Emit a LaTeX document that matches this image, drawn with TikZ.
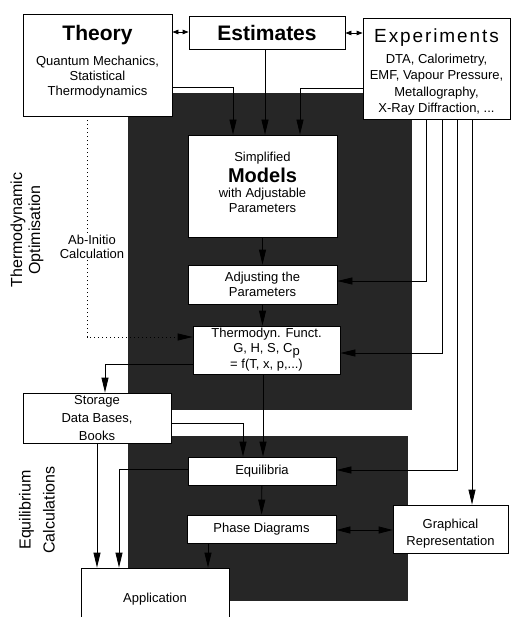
\documentclass[tikz,border=0pt]{standalone}
\usepackage{fontspec}
\setmainfont{Liberation Sans}
\usetikzlibrary{arrows.meta}

\newcommand{\fsz}[2]{\fontsize{#1}{#2}\selectfont}

\tikzset{
    box/.style={draw,fill=white,line width=0.8pt,align=center,inner sep=1pt,font=\fsz{13}{15}},
    darkfill/.style={fill=black!85},
    flow/.style={line width=0.8pt,-{Triangle[length=15pt,width=7pt]}},
    both/.style={line width=0.8pt,{Triangle[length=6pt,width=4.5pt]}-{Triangle[length=6pt,width=4.5pt]}},
    sidetext/.style={rotate=90,align=center},
}

\begin{document}
\begin{tikzpicture}[x=1pt,y=-1pt]
    \useasboundingbox (0,0) rectangle (511,617);
    \clip (0,0) rectangle (511,617);

    % dark background blocks
    \fill[darkfill] (128,93) rectangle (412,410);
    \fill[darkfill] (128,436) rectangle (408,601);

    % boxes
    \node[box,minimum width=149,minimum height=102] (theory) at (97.5,65)
        {{\fsz{21}{26}\bfseries Theory}\\[10pt]Quantum Mechanics,\\Statistical\\Thermodynamics\rule[-10pt]{0pt}{10pt}};
    \node[box,minimum width=156,minimum height=33] (estimates) at (267,32.5)
        {\fsz{21}{24}\bfseries Estimates};
    \node[box,minimum width=147,minimum height=101,font=\fsz{13}{16.5}] (experiments) at (436.5,68.5)
        {{\fsz{19}{24}\addfontfeature{LetterSpace=10}\rule{0pt}{21pt}Experiments}\\[4pt]DTA, Calorimetry,\\EMF, Vapour Pressure,\\Metallography,\\X-Ray Diffraction, ...};
    \node[box,minimum width=149,minimum height=102] (models) at (262.5,186)
        {Simplified\\[3pt]{\fsz{20}{20}\bfseries Models}\\with Adjustable\\Parameters\rule[-8pt]{0pt}{8pt}};
    \node[box,minimum width=149,minimum height=39] (adjusting) at (262.5,284.5)
        {Adjusting the\\Parameters};
    \node[box,minimum width=147,minimum height=48,font=\fsz{13}{15}] (thermo) at (266.5,350)
        {Thermodyn. Funct.\\G, H, S, C\raisebox{-3pt}{p}\\= f(T, x, p,...)};
    \node[box,minimum width=148,minimum height=50,font=\fsz{13}{18}] (storage) at (97,418)
        {Storage\\Data Bases,\\Books};
    \node[box,minimum width=148,minimum height=28] (equil) at (262,471) {Equilibria};
    \node[box,minimum width=149,minimum height=28] (phase) at (261.5,529) {Phase Diagrams};
    \node[box,minimum width=115,minimum height=48,font=\fsz{13}{17}] (graphical) at (450.5,529)
        {\rule{0pt}{19pt}Graphical\\Representation};
    \node[box,minimum width=148,minimum height=62] (application) at (155,599) {Application};

    % connectors
    \draw[both] (theory.east |- 0,32) -- (estimates.west |- 0,32);
    \draw[both] (estimates.east |- 0,33) -- (experiments.west |- 0,33);

    \draw[flow] (theory.east |- 0,87) -| (models.north -| 233,0);
    \draw[flow] (estimates.south -| 265,0) -- (models.north -| 265,0);
    \draw[flow] (experiments.west |- 0,88) -| (models.north -| 300,0);

    \draw[flow] (experiments.south -| 426,0) |- (adjusting.east |- 0,281);
    \draw[flow] (experiments.south -| 442,0) |- (thermo.east |- 0,353);
    \draw[flow] (experiments.south -| 457,0) |- (equil.east |- 0,470);
    \draw[flow] (experiments.south -| 472,0) -- (graphical.north -| 472,0);

    \draw[flow] (models) -- (adjusting);
    \draw[flow] (adjusting.south -| 262.5,0) -- (thermo.north -| 262.5,0);

    \draw[flow,dash pattern=on 1pt off 3pt] (theory.south -| 87,0) |- (thermo.west |- 0,337);

    \draw[flow] (thermo.west |- 0,364) -| (storage.north -| 105,0);
    \draw[flow] (thermo.south -| 263,0) -- (equil.north -| 263,0);
    \draw[flow] (storage.east |- 0,423) -| (equil.north -| 243,0);
    \draw[flow] (storage.south -| 97,0) -- (application.north -| 97,0);
    \draw[flow] (equil.west |- 0,469) -| (application.north -| 119,0);
    \draw[flow] (equil) -- (phase);
    \draw[flow] (phase.south -| 208,0) -- (application.north -| 208,0);
    \draw[both,{Triangle[length=14pt,width=7pt]}-{Triangle[length=14pt,width=7pt]}] (phase.east |- 0,530) -- (graphical.west |- 0,530);

    % side labels
    \node[fill=white,inner sep=1pt,align=center,font=\fsz{13}{14}] (abinitio) at (92,247)
        {Ab-Initio\\Calculation};
    \node[sidetext,font=\fsz{16}{18}] (optlabel) at (27,230) {Thermodynamic\\Optimisation};
    \node[sidetext,font=\fsz{16}{24}] (eqlabel) at (37,510) {Equilibrium\\Calculations};
\end{tikzpicture}
\end{document}
